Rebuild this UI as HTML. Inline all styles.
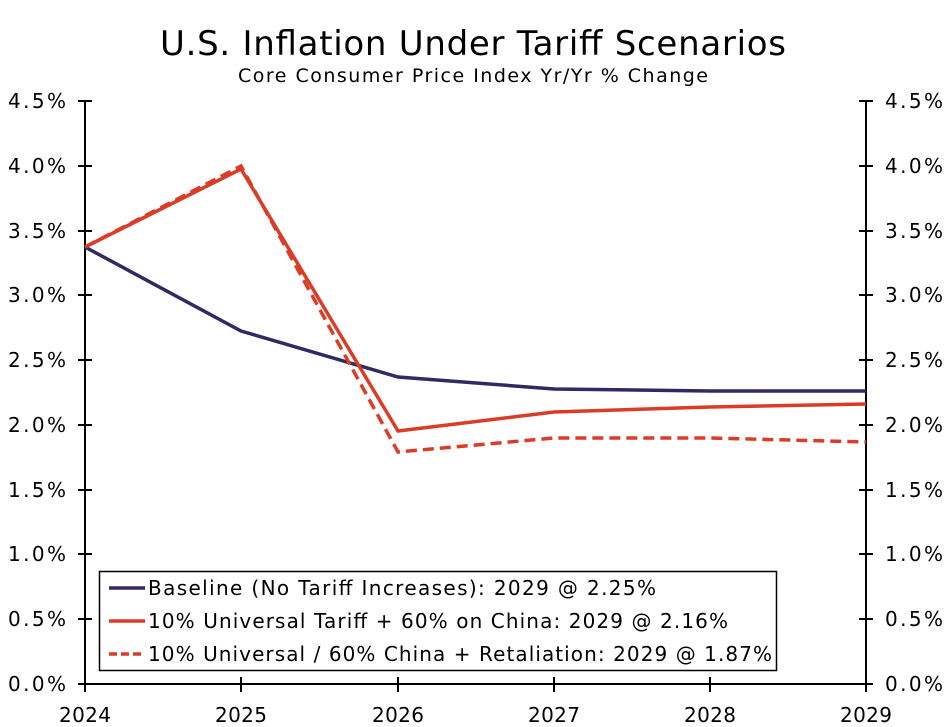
<!DOCTYPE html><html><head><style>body{margin:0;background:#fff}svg{display:block}text{font-family:"DejaVu Sans","Liberation Sans",sans-serif;fill:#000}</style></head><body>
<svg width="947" height="727" viewBox="0 0 947 727">
<text x="160" y="55" font-size="34" textLength="626" lengthAdjust="spacing">U.S. Inflation Under Tariff Scenarios</text>
<text x="238" y="82" font-size="19" textLength="470" lengthAdjust="spacing">Core Consumer Price Index Yr/Yr % Change</text>
<g stroke="#000" stroke-width="2" fill="none">
<line x1="85" y1="101" x2="85" y2="685"/><line x1="866" y1="101" x2="866" y2="685"/><line x1="78" y1="684" x2="873" y2="684"/>
<path d="M78 101H92M78 166H92M78 231H92M78 295H92M78 360H92M78 425H92M78 490H92M78 554H92M78 619H92M859 101H873M859 166H873M859 231H873M859 295H873M859 360H873M859 425H873M859 490H873M859 554H873M859 619H873M241 677V692M398 677V692M554 677V692M710 677V692M866 677V692M85 677V692"/>
</g>
<g font-size="20">
<g><text x="8" y="108" textLength="58" lengthAdjust="spacing">4.5%</text><text x="8" y="173" textLength="58" lengthAdjust="spacing">4.0%</text><text x="8" y="238" textLength="58" lengthAdjust="spacing">3.5%</text><text x="8" y="302" textLength="58" lengthAdjust="spacing">3.0%</text><text x="8" y="367" textLength="58" lengthAdjust="spacing">2.5%</text><text x="8" y="432" textLength="58" lengthAdjust="spacing">2.0%</text><text x="8" y="497" textLength="58" lengthAdjust="spacing">1.5%</text><text x="8" y="561" textLength="58" lengthAdjust="spacing">1.0%</text><text x="8" y="626" textLength="58" lengthAdjust="spacing">0.5%</text><text x="8" y="691" textLength="58" lengthAdjust="spacing">0.0%</text></g>
<g><text x="885" y="108" textLength="58" lengthAdjust="spacing">4.5%</text><text x="885" y="173" textLength="58" lengthAdjust="spacing">4.0%</text><text x="885" y="238" textLength="58" lengthAdjust="spacing">3.5%</text><text x="885" y="302" textLength="58" lengthAdjust="spacing">3.0%</text><text x="885" y="367" textLength="58" lengthAdjust="spacing">2.5%</text><text x="885" y="432" textLength="58" lengthAdjust="spacing">2.0%</text><text x="885" y="497" textLength="58" lengthAdjust="spacing">1.5%</text><text x="885" y="561" textLength="58" lengthAdjust="spacing">1.0%</text><text x="885" y="626" textLength="58" lengthAdjust="spacing">0.5%</text><text x="885" y="691" textLength="58" lengthAdjust="spacing">0.0%</text></g>
<g><text x="59" y="722" textLength="52" lengthAdjust="spacing">2024</text><text x="215" y="722" textLength="52" lengthAdjust="spacing">2025</text><text x="372" y="722" textLength="52" lengthAdjust="spacing">2026</text><text x="528" y="722" textLength="52" lengthAdjust="spacing">2027</text><text x="684" y="722" textLength="52" lengthAdjust="spacing">2028</text><text x="840" y="722" textLength="52" lengthAdjust="spacing">2029</text></g>
</g>
<g fill="none" stroke-width="3.5">
<polyline stroke="#2e2a64" points="85,247 241,331 398,377 554,389 710,391 866,391"/>
<polyline stroke="#dc3c26" points="85,247 241,169 398,431 554,412 710,407 866,404"/>
<polyline stroke="#dc3c26" stroke-dasharray="11,6" points="85,247 241,166 398,452 554,438 710,438 866,442"/>
</g>
<rect x="99.5" y="571.5" width="677" height="99" fill="#fff" stroke="#000" stroke-width="1.5"/>
<line x1="109" y1="588" x2="145" y2="588" stroke="#2e2a64" stroke-width="3.5"/>
<line x1="109" y1="621" x2="145" y2="621" stroke="#dc3c26" stroke-width="3.5"/>
<line x1="109" y1="654" x2="145" y2="654" stroke="#dc3c26" stroke-width="3.5" stroke-dasharray="8,4"/>
<g font-size="20"><text x="148" y="595" textLength="508" lengthAdjust="spacing">Baseline (No Tariff Increases): 2029 @ 2.25%</text><text x="148" y="628" textLength="580" lengthAdjust="spacing">10% Universal Tariff + 60% on China: 2029 @ 2.16%</text><text x="148" y="661" textLength="624" lengthAdjust="spacing">10% Universal / 60% China + Retaliation: 2029 @ 1.87%</text></g>
</svg></body></html>
